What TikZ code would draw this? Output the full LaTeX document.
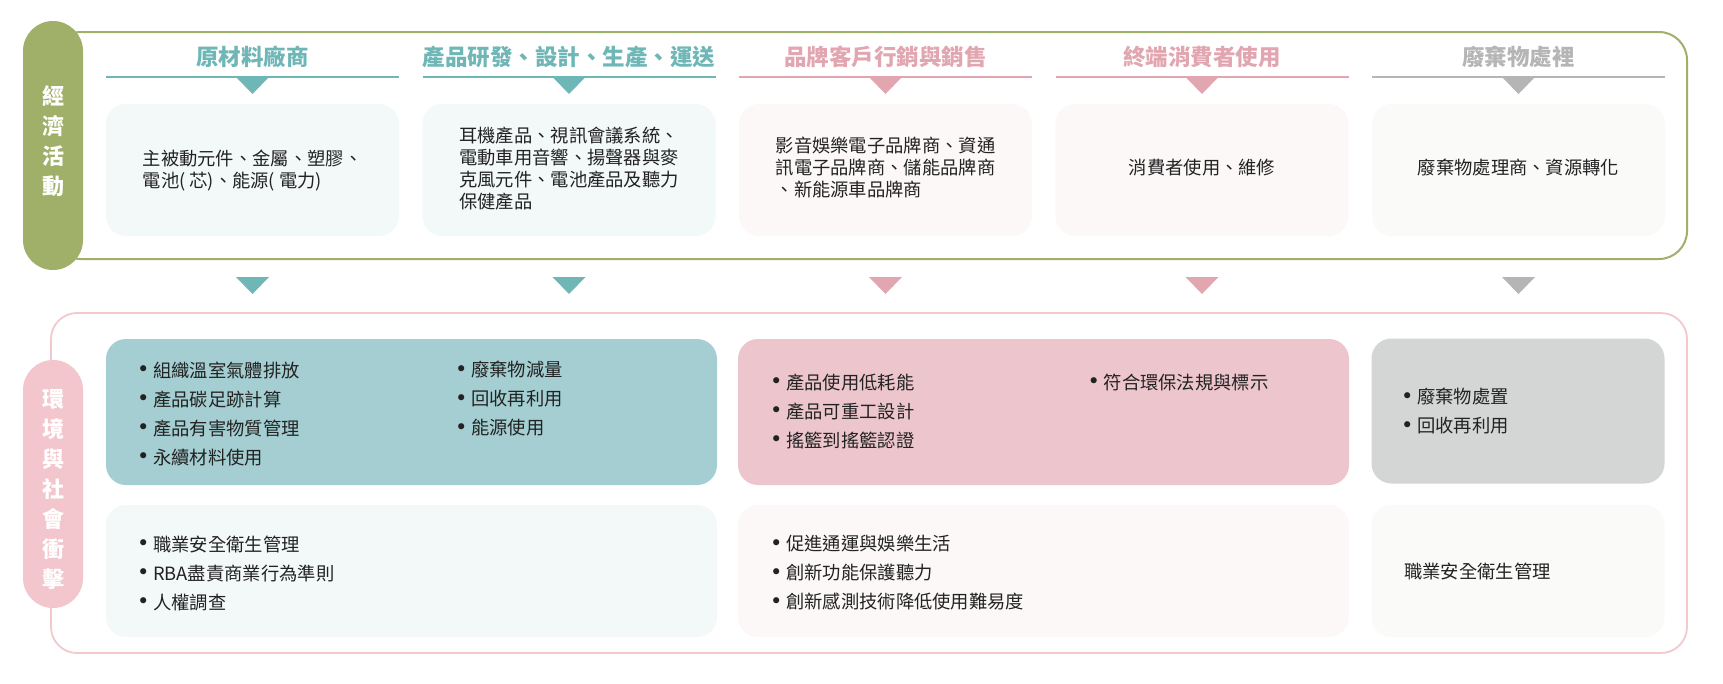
\documentclass[tikz,border=0pt]{standalone}
\usepackage{fontspec}
\setmainfont{Noto Sans CJK TC}
\newfontfamily\bulfont{DejaVu Sans}
\definecolor{gframe}{HTML}{A0B068}
\definecolor{pframe}{HTML}{F3C8CE}
\definecolor{ppill}{HTML}{F2C6CC}
\definecolor{tealc}{HTML}{6FB6B6}
\definecolor{pinkc}{HTML}{E2A6B0}
\definecolor{grayc}{HTML}{B5B5B5}
\definecolor{lteal}{HTML}{F3F8F8}
\definecolor{lpink}{HTML}{FCF8F8}
\definecolor{lgray}{HTML}{FAFAF9}
\definecolor{mteal}{HTML}{A4CED1}
\definecolor{mpink}{HTML}{EDC6CD}
\definecolor{mgray}{HTML}{D4D5D5}
\definecolor{txt}{HTML}{222222}
\newcommand{\mybul}{\makebox[0pt][c]{\raisebox{0.5pt}{\bulfont\fontsize{21}{21}\selectfont •}}\hspace{10pt}}
\begin{document}
\begin{tikzpicture}[x=1pt,y=-1pt,
  box/.style={draw=none, rounded corners=20pt, minimum width=293pt, minimum height=132pt, inner sep=0pt},
  wbox/.style={draw=none, rounded corners=20pt, minimum width=611pt, inner sep=0pt},
  etext/.style={font=\fontsize{18.3}{22}\selectfont, align=left, text=txt, inner sep=0pt},
  ltext/.style={font=\fontsize{18.3}{29}\selectfont, align=left, anchor=west, text=txt, inner sep=0pt},
  head/.style={font=\fontsize{22.5}{26}\selectfont\bfseries, inner sep=0pt},
  pill/.style={draw=none, rounded corners=30pt, minimum width=60pt, inner sep=0pt},
  side/.style={font=\fontsize{22}{30}\selectfont\bfseries, text=white, align=center, inner sep=0pt}]
\useasboundingbox (0,0) rectangle (1723,683);
\fill[white] (0,0) rectangle (1723,683);

% frames
\draw[gframe, line width=2pt, rounded corners=28pt] (53,32) rectangle (1687,259);
\draw[pframe, line width=1.8pt, rounded corners=26pt] (51,313) rectangle (1687,653);

% pills and side labels
\node[pill, fill=gframe, minimum height=249pt] (gpill) at (53,145.5) {};
\node[side] (econ) at (53,141) {經\\濟\\活\\動};
\node[pill, fill=ppill, minimum height=248pt] (ppillnode) at (53,484) {};
\node[side] (envs) at (53,489) {環\\境\\與\\社\\會\\衝\\擊};

% headers, underlines, triangles
\foreach \c/\col/\t [count=\i] in {252.5/tealc/原材料廠商, 569/tealc/產品研發、設計、生產、運送, 885.5/pinkc/品牌客戶行銷與銷售, 1202/pinkc/終端消費者使用, 1518.5/grayc/廢棄物處裡}{
  \node[head, text=\col] (h\i) at (\c,57) {\t};
  \draw[\col, line width=2pt] (\c-146.5,77) -- (\c+146.5,77);
  \fill[\col] (\c-16.5,77) -- (\c+16.5,77) -- (\c,94) -- cycle;
  \fill[\col] (\c-16.5,277) -- (\c+16.5,277) -- (\c,294) -- cycle;
}

% economic activity boxes
\node[box, fill=lteal] (e1) at (252.5,170) {};
\node[etext] (e1t) at (252.5,170.5) {主被動元件、金屬、塑膠、\\電池(~芯)、能源(~電力)};
\node[box, fill=lteal] (e2) at (569,170) {};
\node[etext] (e2t) at (569,168.5) {耳機產品、視訊會議系統、\\電動車用音響、揚聲器與麥\\克風元件、電池產品及聽力\\保健產品};
\node[box, fill=lpink] (e3) at (885.5,170) {};
\node[etext] (e3t) at (885.5,167) {影音娛樂電子品牌商、資通\\訊電子品牌商、儲能品牌商\\、新能源車品牌商};
\node[box, fill=lpink] (e4) at (1202,170) {};
\node[etext] (e4t) at (1202,168) {消費者使用、維修};
\node[box, fill=lgray] (e5) at (1518.5,170) {};
\node[etext] (e5t) at (1518.5,168) {廢棄物處理商、資源轉化};

% environment row 1
\node[wbox, fill=mteal, minimum height=146pt] (r1a) at (411.5,412) {};
\node[ltext] (r1at) at (143,413.5) {\mybul 組織溫室氣體排放\\\mybul 產品碳足跡計算\\\mybul 產品有害物質管理\\\mybul 永續材料使用};
\node[ltext] (r1bt) at (461,399) {\mybul 廢棄物減量\\\mybul 回收再利用\\\mybul 能源使用};
\node[wbox, fill=mpink, minimum height=146pt] (r1c) at (1043.5,412) {};
\node[ltext] (r1ct) at (776,411) {\mybul 產品使用低耗能\\\mybul 產品可重工設計\\\mybul 搖籃到搖籃認證};
\node[ltext] (r1dt) at (1093.5,382) {\mybul 符合環保法規與標示};
\node[box, fill=mgray, minimum height=145pt] (r1e) at (1518,411) {};
\node[ltext] (r1et) at (1407,411.5) {\mybul 廢棄物處置\\\mybul 回收再利用};

% environment row 2
\node[wbox, fill=lteal, minimum height=132pt] (r2a) at (411.5,571) {};
\node[ltext] (r2at) at (143,573) {\mybul 職業安全衛生管理\\\mybul RBA盡責商業行為準則\\\mybul 人權調查};
\node[wbox, fill=lpink, minimum height=132pt] (r2c) at (1043.5,571) {};
\node[ltext] (r2ct) at (776,573) {\mybul 促進通運與娛樂生活\\\mybul 創新功能保護聽力\\\mybul 創新感測技術降低使用難易度};
\node[box, fill=lgray, minimum height=132pt] (r2e) at (1518,571) {};
\node[ltext] (r2et) at (1404,571) {職業安全衛生管理};
\end{tikzpicture}
\end{document}
